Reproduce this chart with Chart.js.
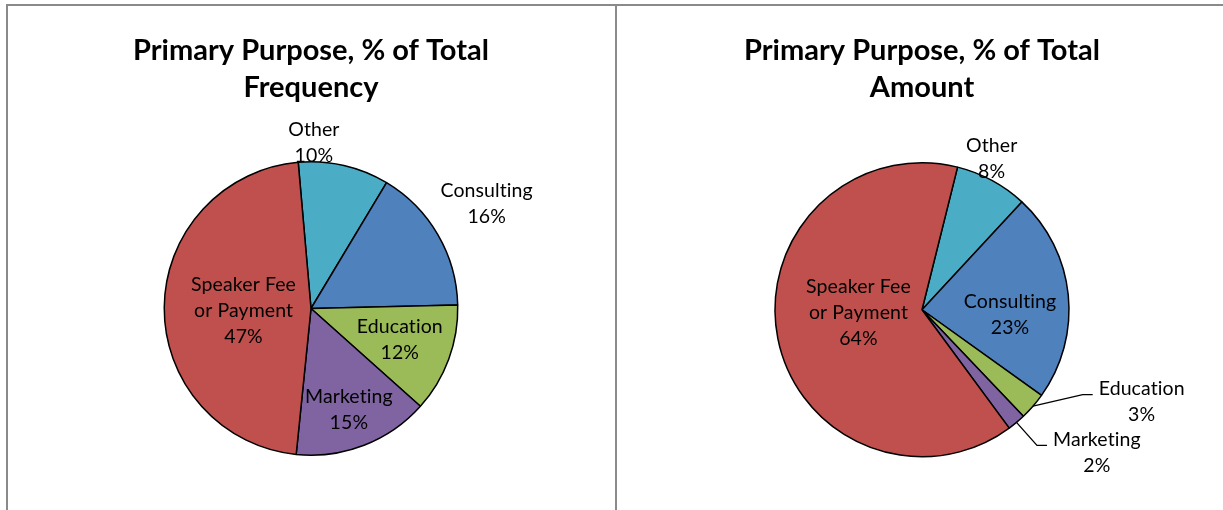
<!DOCTYPE html>
<html lang="en">
<head>
    <meta charset="UTF-8">
    <title>Primary Purpose</title>
    <script src="https://cdn.jsdelivr.net/npm/chart.js"></script>
    <style>
        html, body { margin: 0; padding: 0; background: #fff; overflow: hidden; }
        body { width: 1223px; height: 510px; position: relative; }
        .panel { position: absolute; top: 4px; height: 520px; border-top: 2px solid #8a8a8a; }
        #panelLeft { left: 6px; width: 607px; border-left: 2px solid #8a8a8a; border-right: 1px solid #8a8a8a; }
        #panelRight { left: 616px; width: 640px; border-left: 1px solid #8a8a8a; }
        canvas { position: absolute; }
    </style>
</head>
<body>
    <div class="panel" id="panelLeft"></div>
    <div class="panel" id="panelRight"></div>
    <canvas id="freqChart" width="606" height="504" style="left:8px;top:6px"></canvas>
    <canvas id="amountChart" width="606" height="504" style="left:619px;top:6px"></canvas>

    <script>
        // categories, same order in both pies
        const categories = ['Other', 'Consulting', 'Education', 'Marketing', ['Speaker Fee', 'or Payment']];
        const frequencyPct = [10, 16, 12, 15, 47];
        const amountPct = [8, 23, 3, 2, 64];

        const colors = [
            '#4BACC6', // Other
            '#4F81BD', // Consulting
            '#9BBB59', // Education
            '#8064A2', // Marketing
            '#C0504D'  // Speaker Fee
        ];

        const FONT = 'Lato, "Open Sans", sans-serif';

        // label placement per slice: radius factor, angle shift (deg), leader line
        const freqLabelPos = [
            { r: 1.13, shift: -12 },
            { r: 1.395, shift: -0.7 },
            { r: 0.642, shift: -0.7 },
            { r: 0.734, shift: 0.6 },
            { r: 0.46, shift: -2.5 }
        ];
        const amountLabelPos = [
            { r: 1.134, shift: -3.7 },
            { r: 0.60, shift: 9 },
            { r: 1.62, shift: -18.3, leader: true },
            { r: 1.535, shift: -10.8, leader: true },
            { r: 0.433, shift: 8.1 }
        ];

        const sliceLabels = {
            id: 'sliceLabels',
            afterDatasetsDraw(chart, args, opts) {
                const ctx = chart.ctx;
                const meta = chart.getDatasetMeta(0);
                const values = chart.data.datasets[0].data;
                const lineH = 26;
                ctx.save();
                ctx.font = '19.5px ' + FONT;
                ctx.letterSpacing = '0.1px'; // also stops the "ti" ligature
                ctx.fillStyle = '#000';
                ctx.strokeStyle = '#000';
                ctx.lineWidth = 1.3;
                ctx.textAlign = 'center';
                ctx.textBaseline = 'middle';
                meta.data.forEach((arc, i) => {
                    const pos = opts.positions[i];
                    const mid = (arc.startAngle + arc.endAngle) / 2;
                    const a = mid + pos.shift * Math.PI / 180;
                    const cx = arc.x + Math.cos(a) * arc.outerRadius * pos.r;
                    const cy = arc.y + Math.sin(a) * arc.outerRadius * pos.r;
                    const name = chart.data.labels[i];
                    const lines = (Array.isArray(name) ? name : [name]).concat(values[i] + '%');
                    const top = cy - (lines.length - 1) * lineH / 2;
                    if (pos.leader) {
                        const w = ctx.measureText(lines[0]).width;
                        const xEnd = cx - w / 2 - 6;
                        const yH = top + 6;
                        ctx.beginPath();
                        ctx.moveTo(arc.x + Math.cos(mid) * arc.outerRadius, arc.y + Math.sin(mid) * arc.outerRadius);
                        ctx.lineTo(xEnd - 10, yH);
                        ctx.lineTo(xEnd, yH);
                        ctx.stroke();
                    }
                    lines.forEach((t, k) => ctx.fillText(t, cx, top + k * lineH));
                });
                ctx.restore();
            }
        };

        function createPie(id, title, values, rotation, positions, titlePadBottom, layoutPadBottom) {
            const ctx = document.getElementById(id).getContext('2d');
            return new Chart(ctx, {
                type: 'pie',
                data: {
                    labels: categories,
                    datasets: [{
                        data: values,
                        backgroundColor: colors,
                        borderColor: '#000',
                        borderWidth: 1.5
                    }]
                },
                options: {
                    responsive: false,
                    animation: false,
                    rotation: rotation,
                    layout: { padding: { top: 0, bottom: layoutPadBottom, left: 0, right: 0 } },
                    plugins: {
                        legend: { display: false },
                        tooltip: { enabled: false },
                        title: {
                            display: true,
                            text: title,
                            color: '#000',
                            font: { family: FONT, size: 29, weight: 'bold', lineHeight: 1.276 },
                            padding: { top: 26, bottom: titlePadBottom }
                        },
                        sliceLabels: { positions: positions }
                    }
                },
                plugins: [sliceLabels]
            });
        }

        createPie('freqChart', ['Primary Purpose, % of Total', 'Frequency'], frequencyPct, -5, freqLabelPos, 55, 54);
        createPie('amountChart', ['Primary Purpose, % of Total', 'Amount'], amountPct, 14, amountLabelPos, 56, 52.5);
    </script>
</body>
</html>
